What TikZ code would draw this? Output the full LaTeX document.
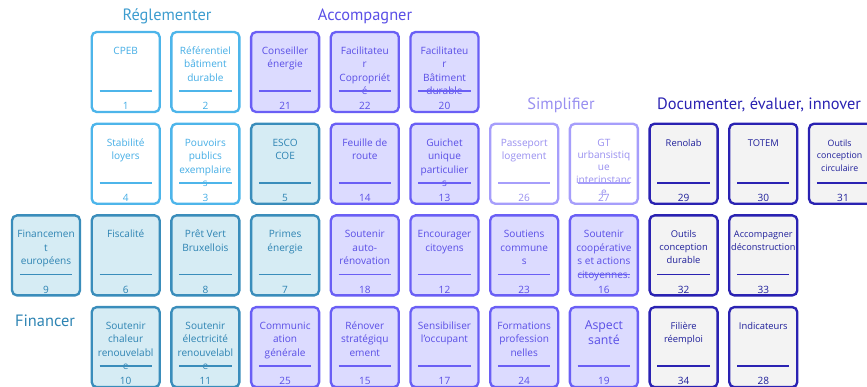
\documentclass[tikz,border=0pt]{standalone}
\usepackage{fontspec}
\setmainfont{PT Sans}
\newfontfamily\cardfont{Open Sans}
\usetikzlibrary{calc}

\definecolor{reglDraw}{HTML}{4DB5EA}
\definecolor{reglFill}{HTML}{FFFFFF}
\definecolor{reglText}{HTML}{45AEE6}
\definecolor{accDraw}{HTML}{6A5FF5}
\definecolor{accFill}{HTML}{DCDBFF}
\definecolor{accText}{HTML}{5A4FE6}
\definecolor{finDraw}{HTML}{3A8DBB}
\definecolor{finFill}{HTML}{D6ECF4}
\definecolor{finText}{HTML}{2E84B3}
\definecolor{simpDraw}{HTML}{A69EFB}
\definecolor{simpFill}{HTML}{FFFFFF}
\definecolor{simpText}{HTML}{9990F0}
\definecolor{docDraw}{HTML}{2A22B2}
\definecolor{docFill}{HTML}{F3F3F3}
\definecolor{docText}{HTML}{1F1F9A}

% #1 title options, #2 group, #3 column, #4 row, #5 number, #6 title
\newcommand{\actioncard}[6][]{%
  \node[card, draw=#2Draw, fill=#2Fill] (card#5) at ({46+79.7*#3},{72+91.7*#4}) {};
  \node[cardtitle, text=#2Text, #1] (title#5) at ($(card#5.north)+(0,14)$) {\rule{0pt}{2.8mm}#6};
  \draw[cardline, #2Draw] ($(card#5.south west)+(9,-22)$) -- ($(card#5.south east)+(-9,-22)$);
  \node[cardnum, text=#2Text] (num#5) at ($(card#5.south)+(0,-7)$) {#5};
}

\begin{document}
\begin{tikzpicture}[
    x=0.3mm,
    y=-0.3mm,
    card/.style={
        rectangle,
        rounded corners=1.5mm,
        line width=0.7mm,
        minimum width=20.4mm,
        minimum height=24mm
    },
    cardtitle/.style={
        anchor=north,
        align=center,
        inner sep=0pt,
        font=\cardfont\fontsize{8.6}{11.5}\selectfont
    },
    doctitle/.style={
        font=\cardfont\fontsize{8}{11}\selectfont
    },
    cardnum/.style={
        inner sep=0pt,
        font=\cardfont\fontsize{8.6}{10}\selectfont
    },
    cardline/.style={
        line width=0.55mm
    },
    heading/.style={
        inner sep=0pt,
        font=\fontsize{14}{16}\selectfont
    }
]
    \clip (0,0) rectangle (867,387);

    % Headings
    \node[heading, text=reglText!90!black] (reglementer) at (167,16) {Réglementer};
    \node[heading, text=accText] (accompagner) at (365,16) {Accompagner};
    \node[heading, text=simpText] (simplifier) at (561,105) {Simplifier};
    \node[heading, text=docDraw] (documenter) at (759,105) {Documenter, évaluer, innover};
    \node[heading, text=finText] (financer) at (45,321) {Financer};

    % Row 1
    \actioncard{regl}{1}{0}{1}{CPEB}
    \actioncard{regl}{2}{0}{2}{Référentiel\\bâtiment\\durable}
    \actioncard{acc}{3}{0}{21}{Conseiller\\énergie}
    \actioncard{acc}{4}{0}{22}{Facilitateu\\r\\Copropriét\\é}
    \actioncard{acc}{5}{0}{20}{Facilitateu\\r\\Bâtiment\\durable}

    % Row 2
    \actioncard{regl}{1}{1}{4}{Stabilité\\loyers}
    \actioncard{regl}{2}{1}{3}{Pouvoirs\\publics\\exemplaire\\s}
    \actioncard{fin}{3}{1}{5}{ESCO\\COE}
    \actioncard{acc}{4}{1}{14}{Feuille de\\route}
    \actioncard{acc}{5}{1}{13}{Guichet\\unique\\particulier\\s}
    \actioncard{simp}{6}{1}{26}{Passeport\\logement}
    \actioncard[font=\cardfont\fontsize{8.6}{10.5}\selectfont]{simp}{7}{1}{27}{GT\\urbansistiq\\ue\\interinstanc\\e}
    \actioncard[doctitle]{doc}{8}{1}{29}{Renolab}
    \actioncard[doctitle]{doc}{9}{1}{30}{TOTEM}
    \actioncard[font=\cardfont\fontsize{7.5}{11}\selectfont, xshift=-1mm]{doc}{10}{1}{31}{Outils\\conception\\circulaire}

    % Row 3
    \actioncard{fin}{0}{2}{9}{Financemen\\t\\européens}
    \actioncard{fin}{1}{2}{6}{Fiscalité}
    \actioncard{fin}{2}{2}{8}{Prêt Vert\\Bruxellois}
    \actioncard{fin}{3}{2}{7}{Primes\\énergie}
    \actioncard{acc}{4}{2}{18}{Soutenir\\auto-\\rénovation}
    \actioncard{acc}{5}{2}{12}{Encourager\\citoyens}
    \actioncard{acc}{6}{2}{23}{Soutiens\\commune\\s}
    \actioncard{acc}{7}{2}{16}{Soutenir\\coopérative\\s et actions\\citoyennes.}
    \actioncard[doctitle]{doc}{8}{2}{32}{Outils\\conception\\durable}
    \actioncard[font=\cardfont\fontsize{7.8}{10.5}\selectfont]{doc}{9}{2}{33}{Accompagner\\déconstruction}

    % Row 4
    \actioncard{fin}{1}{3}{10}{Soutenir\\chaleur\\renouvelabl\\e}
    \actioncard{fin}{2}{3}{11}{Soutenir\\électricité\\renouvelabl\\e}
    \actioncard{acc}{3}{3}{25}{Communic\\ation\\générale}
    \actioncard{acc}{4}{3}{15}{Rénover\\stratégiqu\\ement}
    \actioncard{acc}{5}{3}{17}{Sensibiliser\\l’occupant}
    \actioncard{acc}{6}{3}{24}{Formations\\profession\\nelles}
    \actioncard[font=\cardfont\fontsize{10.5}{13}\selectfont]{acc}{7}{3}{19}{Aspect\\santé}
    \actioncard[doctitle]{doc}{8}{3}{34}{Filière\\réemploi}
    \actioncard[doctitle]{doc}{9}{3}{28}{Indicateurs}

\end{tikzpicture}
\end{document}
